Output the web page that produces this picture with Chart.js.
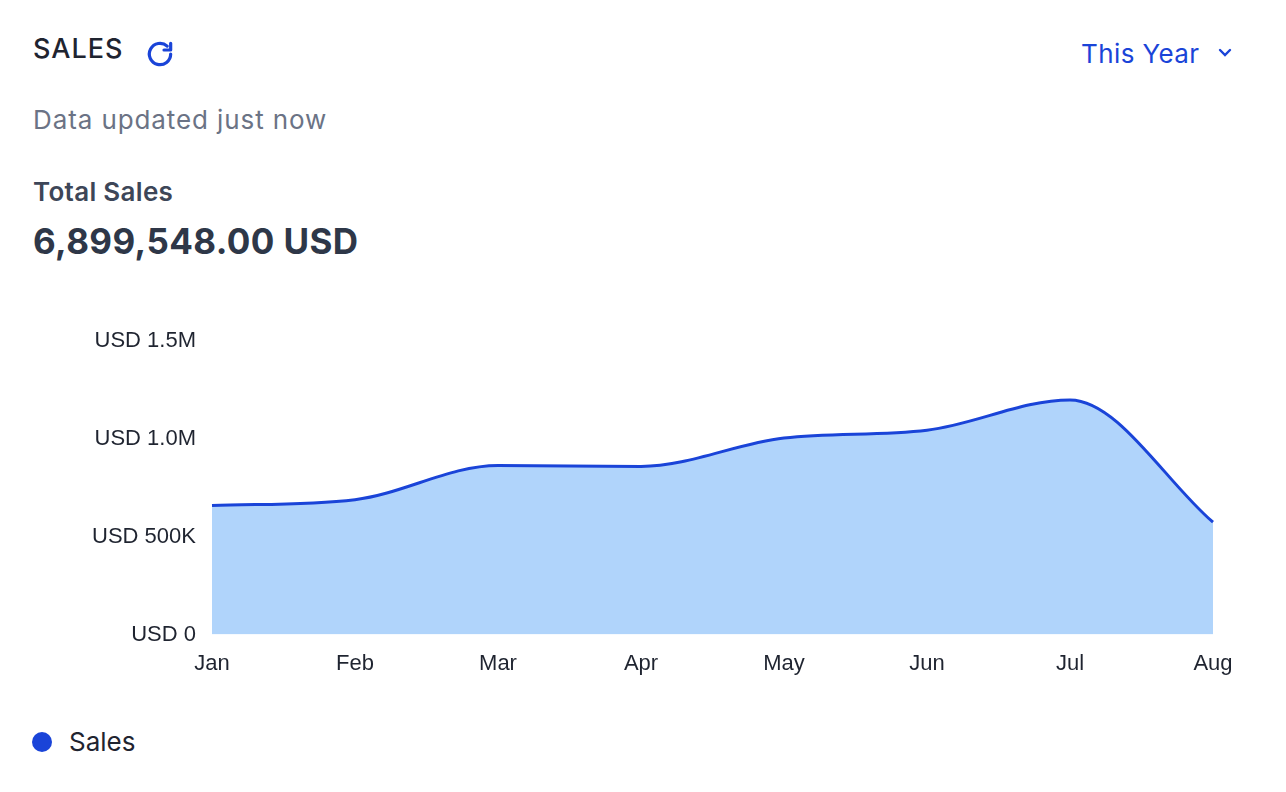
<!DOCTYPE html>
<html><head><meta charset="utf-8">
<script src="https://cdn.jsdelivr.net/npm/chart.js@4"></script>
<style>
body{margin:0;width:1286px;height:792px;background:#fff;font-family:Inter,"Noto Sans",sans-serif;position:relative;overflow:hidden}
.abs{position:absolute;white-space:nowrap}
</style></head><body>
<div class="abs" style="left:33px;top:32px;font-size:27px;font-weight:500;color:#1f2430;letter-spacing:1px">SALES</div>
<svg class="abs" style="left:144px;top:38px" width="32" height="32" viewBox="0 0 24 24" fill="none" stroke="#1a44d8" stroke-width="2.4" stroke-linecap="round" stroke-linejoin="round"><path d="M20 12a8 8 0 1 1-2.6-5.9"/><path d="M20 4v5h-5"/></svg>
<div class="abs" style="left:1081px;top:38px;font-size:26px;color:#1a44d8;letter-spacing:0.4px">This Year</div>
<svg class="abs" style="left:1216px;top:46px" width="18" height="14" viewBox="0 0 18 14" fill="none" stroke="#1a44d8" stroke-width="2.4" stroke-linecap="round"><path d="M4 4l5 5 5-5"/></svg>
<div class="abs" style="left:33px;top:104px;font-size:26px;color:#6b7385;letter-spacing:0.9px">Data updated just now</div>
<div class="abs" style="left:33px;top:176px;font-size:26px;font-weight:600;color:#3d4658;letter-spacing:0.3px">Total Sales</div>
<div class="abs" style="left:33px;top:220px;font-size:35px;font-weight:700;color:#2e3748;letter-spacing:0.4px" id="total"></div>
<div class="abs" style="left:0;top:320px;width:1262px;height:365px"><canvas id="c"></canvas></div>
<div class="abs" style="left:32px;top:726px;font-size:26px;color:#1f2430;display:flex;align-items:center"><span style="display:inline-block;width:20px;height:20px;border-radius:50%;background:#1a44d8;margin-right:17px"></span><span id="leg"></span></div>
<script>
const categories=["Jan","Feb","Mar","Apr","May","Jun","Jul","Aug"];
const salesValues=[660000,690000,865000,860000,1005000,1045000,1200000,574548];
const seriesLabel="Sales";
const yTicks=[0,500000,1000000,1500000];
document.getElementById('total').textContent="6,899,548.00 USD";
document.getElementById('leg').textContent=seriesLabel;
function fmt(v){return v===0?"USD 0":v>=1e6?"USD "+(v/1e6).toFixed(1)+"M":"USD "+(v/1000)+"K";}
new Chart(document.getElementById('c'),{type:'line',
data:{labels:categories,datasets:[{label:seriesLabel,data:salesValues,borderColor:'#1a44d8',backgroundColor:'#b0d4fb',borderWidth:3,fill:'origin',pointRadius:0,cubicInterpolationMode:'monotone'}]},
options:{responsive:true,maintainAspectRatio:false,animation:false,
layout:{padding:{top:3,right:49,left:0,bottom:0}},
plugins:{legend:{display:false},tooltip:{enabled:false}},
scales:{
x:{grid:{display:false},border:{display:false},ticks:{color:'#1f2430',font:{size:22,family:'"Liberation Sans"'},padding:8,maxRotation:0}},
y:{min:0,max:1500000,afterBuildTicks:s=>{s.ticks=yTicks.map(v=>({value:v}));},afterFit:s=>{s.width=212;},grid:{display:false},border:{display:false},ticks:{color:'#1f2430',font:{size:22,family:'"Liberation Sans"'},padding:8,callback:v=>fmt(v)}}
}}});
</script></body></html>
